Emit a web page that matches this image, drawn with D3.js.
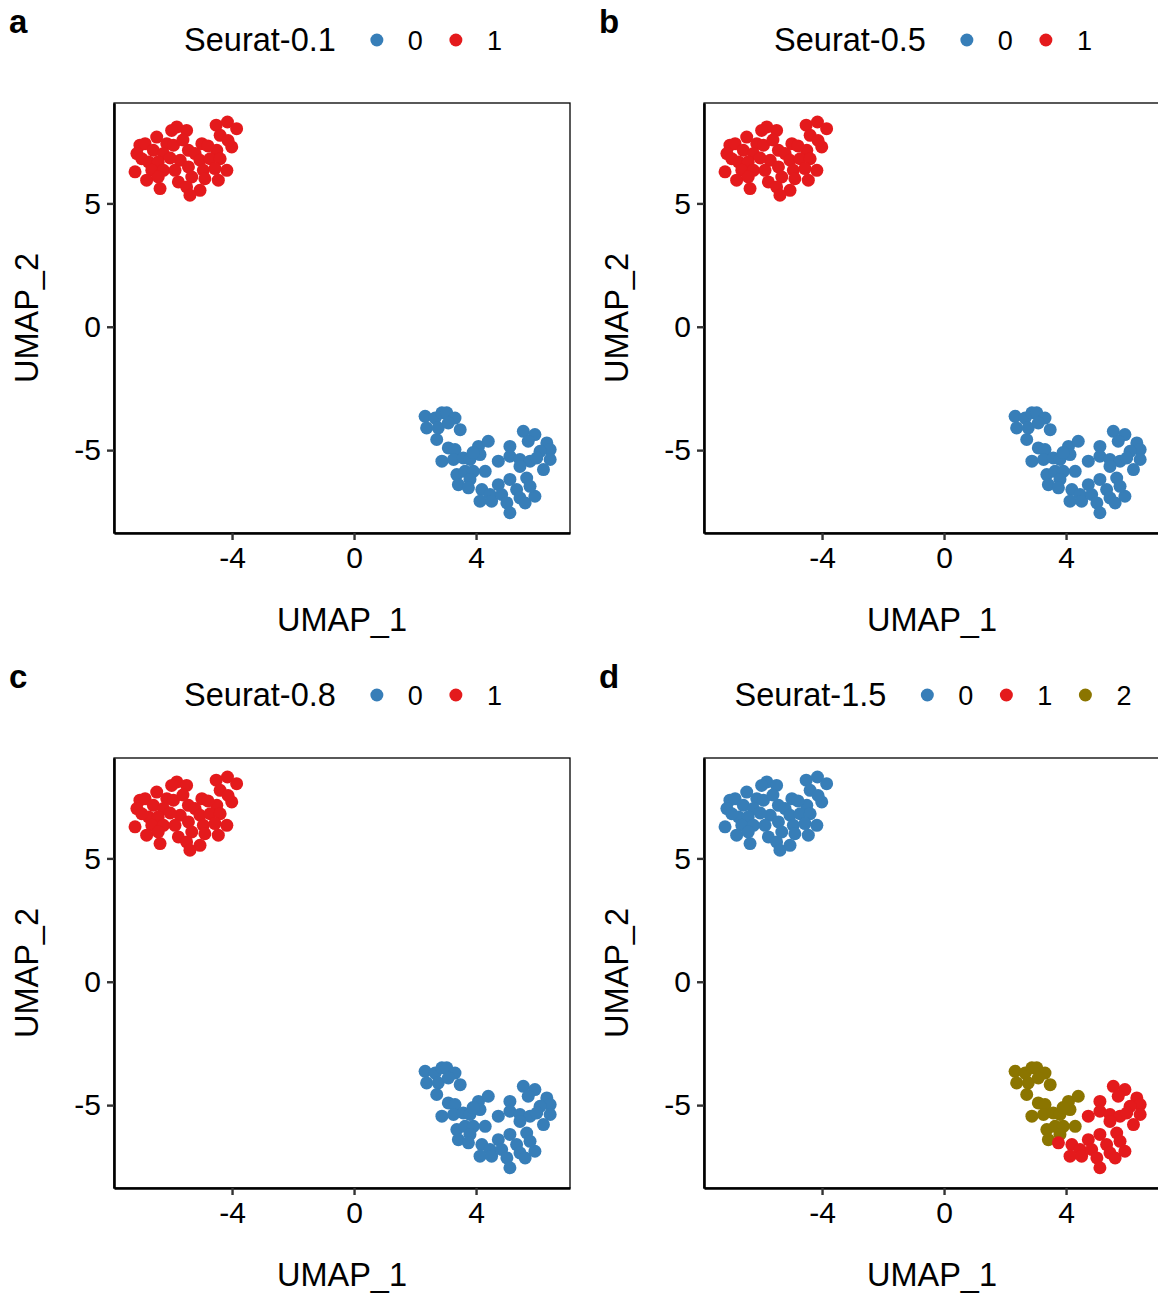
<!DOCTYPE html>
<html>
<head>
<meta charset="utf-8">
<script src="https://cdn.jsdelivr.net/npm/d3@7"></script>
<style>
  body { margin: 0; background: #fff; }
  text { font-family: "Liberation Sans", Arial, sans-serif; fill: #000; }
</style>
</head>
<body>
<svg id="chart" width="1158" height="1294"></svg>
<script>
// UMAP coordinates of the cells (same embedding in every panel)
var umap1 = [
  -5.81, -5.49, -5.98, -4.52, -4.15, -3.85, -4.39, -4.01, -6.47, -7.02,
  -6.85, -6.14, -5.92, -4.99, -7.12, -6.58, -6.25, -5.43, -5.21, -4.50,
  -6.74, -6.42, -6.96, -5.70, -5.05, -4.72, -4.39, -7.18, -6.63, -6.25,
  -5.87, -5.43, -4.94, -4.56, -4.17, -6.80, -6.42, -5.76, -5.32, -4.89,
  -4.45, -6.36, -5.49, -5.05, -5.38, -4.13, -4.79, -6.03, -5.61,
  2.33, 2.66, 2.88, 3.04, 3.31, 2.38, 2.76, 3.09, 3.48, 2.71,
  3.09, 3.31, 2.88, 3.26, 3.58, 3.80, 4.08, 4.40, 4.13, 3.90,
  4.73, 5.11, 5.55, 5.93, 5.71, 6.32, 6.43, 6.10, 5.11, 5.44,
  5.77, 5.99, 6.43, 5.44, 6.21, 3.37, 3.64, 3.91, 4.30, 3.42,
  3.80, 3.75, 5.11, 5.66, 4.73, 4.19, 4.46, 4.13, 4.51, 4.84,
  5.01, 5.33, 5.44, 5.61, 5.93, 5.77, 5.11
];
var umap2 = [
  8.10, 7.96, 7.96, 8.17, 8.30, 8.03, 7.76, 7.29, 7.69, 7.36,
  7.42, 7.42, 7.36, 7.42, 7.02, 7.15, 7.02, 7.15, 7.02, 7.15,
  6.68, 6.68, 6.81, 6.75, 6.75, 6.81, 6.81, 6.28, 6.34, 6.34,
  6.34, 6.48, 6.34, 6.41, 6.34, 5.94, 6.07, 5.87, 6.07, 6.00,
  5.94, 5.60, 5.67, 5.53, 5.33, 7.55, 7.33, 6.84, 7.57,
  -3.63, -3.70, -3.49, -3.49, -3.70, -4.10, -4.10, -3.90, -4.17, -4.57,
  -4.91, -4.98, -5.45, -5.38, -5.32, -5.38, -4.85, -4.64, -5.18, -5.10,
  -5.45, -4.85, -4.24, -4.37, -4.64, -4.71, -4.98, -5.05, -5.25, -5.38,
  -5.45, -5.32, -5.38, -5.66, -5.79, -5.99, -5.86, -5.86, -5.86, -6.40,
  -6.19, -6.53, -6.19, -6.13, -6.40, -6.60, -6.80, -7.07, -7.07, -6.80,
  -7.14, -6.60, -6.94, -7.14, -6.87, -6.47, -7.54
];
// cluster labels at each resolution
var clus01 = [
  1,1,1,1,1,1,1,1,1,1, 1,1,1,1,1,1,1,1,1,1, 1,1,1,1,1,1,1,1,1,1,
  1,1,1,1,1,1,1,1,1,1, 1,1,1,1,1,1,1,1,1,
  0,0,0,0,0,0,0,0,0,0, 0,0,0,0,0,0,0,0,0,0, 0,0,0,0,0,0,0,0,0,0,
  0,0,0,0,0,0,0,0,0,0, 0,0,0,0,0,0,0,0,0,0, 0,0,0,0,0,0,0
];
var clus05 = clus01.slice();
var clus08 = clus01.slice();
var clus15 = [
  0,0,0,0,0,0,0,0,0,0, 0,0,0,0,0,0,0,0,0,0, 0,0,0,0,0,0,0,0,0,0,
  0,0,0,0,0,0,0,0,0,0, 0,0,0,0,0,0,0,0,0,
  2,2,2,2,2,2,2,2,2,2, 2,2,2,2,2,2,2,2,2,2, 1,1,1,1,1,1,1,1,1,1,
  1,1,1,1,1,2,2,2,2,2, 2,1,1,1,1,1,1,1,1,1, 1,1,1,1,1,1,1
];
var xTicks = [-4, 0, 4];
var yTicks = [-5, 0, 5];
var clusterColors = ["#377EB8", "#E41A1C", "#8B7500"];

var panels = [
  { tag: "a", title: "Seurat-0.1", clus: clus01, levels: [0, 1] },
  { tag: "b", title: "Seurat-0.5", clus: clus05, levels: [0, 1] },
  { tag: "c", title: "Seurat-0.8", clus: clus08, levels: [0, 1] },
  { tag: "d", title: "Seurat-1.5", clus: clus15, levels: [0, 1, 2] }
];

var svg = d3.select("#chart");
var pw = 590, ph = 655;
var plot = { left: 114, top: 103, width: 456, height: 430 };

var x = d3.scaleLinear().domain([-7.87, 7.08]).range([0, plot.width]);
var y = d3.scaleLinear().domain([-8.36, 9.07]).range([plot.height, 0]);

panels.forEach(function(p, i) {
  var g = svg.append("g")
    .attr("transform", "translate(" + ((i % 2) * pw) + "," + (Math.floor(i / 2) * ph) + ")");

  g.append("text")
    .attr("x", 9).attr("y", 33)
    .style("font-size", "33px").style("font-weight", "bold")
    .text(p.tag);

  // legend on top, centred over the panel
  var leg = g.append("g");
  var title = leg.append("text")
    .attr("x", 0).attr("y", 51)
    .style("font-size", "32.5px")
    .text(p.title);
  var cx = title.node().getComputedTextLength() + 41;
  p.levels.forEach(function(l) {
    leg.append("circle")
      .attr("cx", cx).attr("cy", 40).attr("r", 6.5)
      .attr("fill", clusterColors[l]);
    var t = leg.append("text")
      .attr("x", cx + 31).attr("y", 50)
      .style("font-size", "27px")
      .text(l);
    cx = cx + 31 + t.node().getComputedTextLength() + 33;
  });
  var legW = cx - 33 + 6;
  leg.attr("transform", "translate(" + (plot.left + plot.width / 2 - legW / 2 + 4) + ",0)");

  var pg = g.append("g").attr("transform", "translate(" + plot.left + "," + plot.top + ")");

  pg.selectAll("circle.pt")
    .data(umap1.map(function(v, k) { return { u1: v, u2: umap2[k], c: p.clus[k] }; }))
    .join("circle")
      .attr("class", "pt")
      .attr("cx", function(d) { return x(d.u1); })
      .attr("cy", function(d) { return y(d.u2); })
      .attr("r", 6.5)
      .attr("fill", function(d) { return clusterColors[d.c]; });

  // thin panel border
  pg.append("rect")
    .attr("x", 0).attr("y", 0)
    .attr("width", plot.width).attr("height", plot.height)
    .attr("fill", "none").attr("stroke", "#000").attr("stroke-width", 1.3);

  var xa = pg.append("g")
    .attr("transform", "translate(0," + plot.height + ")")
    .call(d3.axisBottom(x).tickValues(xTicks).tickSize(7).tickSizeOuter(0).tickPadding(7).tickFormat(d3.format("d")));
  var ya = pg.append("g")
    .call(d3.axisLeft(y).tickValues(yTicks).tickSize(7).tickSizeOuter(0).tickPadding(6).tickFormat(d3.format("d")));
  [xa, ya].forEach(function(a) {
    a.select(".domain").attr("stroke", "#000").attr("stroke-width", 2.6);
    a.selectAll(".tick line").attr("stroke", "#333").attr("stroke-width", 2.4);
    a.selectAll(".tick text")
      .style("font-size", "30px")
      .style("font-family", "'Liberation Sans', Arial, sans-serif")
      .attr("fill", "#000");
  });
  // ggplot prints a plain hyphen for negatives
  g.selectAll(".tick text").text(function(d) { return String(d); });

  g.append("text")
    .attr("x", plot.left + plot.width / 2).attr("y", 631)
    .attr("text-anchor", "middle")
    .style("font-size", "32.5px")
    .text("UMAP_1");
  g.append("text")
    .attr("transform", "translate(38," + (plot.top + plot.height / 2) + ") rotate(-90)")
    .attr("text-anchor", "middle")
    .style("font-size", "32.5px")
    .text("UMAP_2");
});
</script>
</body>
</html>
